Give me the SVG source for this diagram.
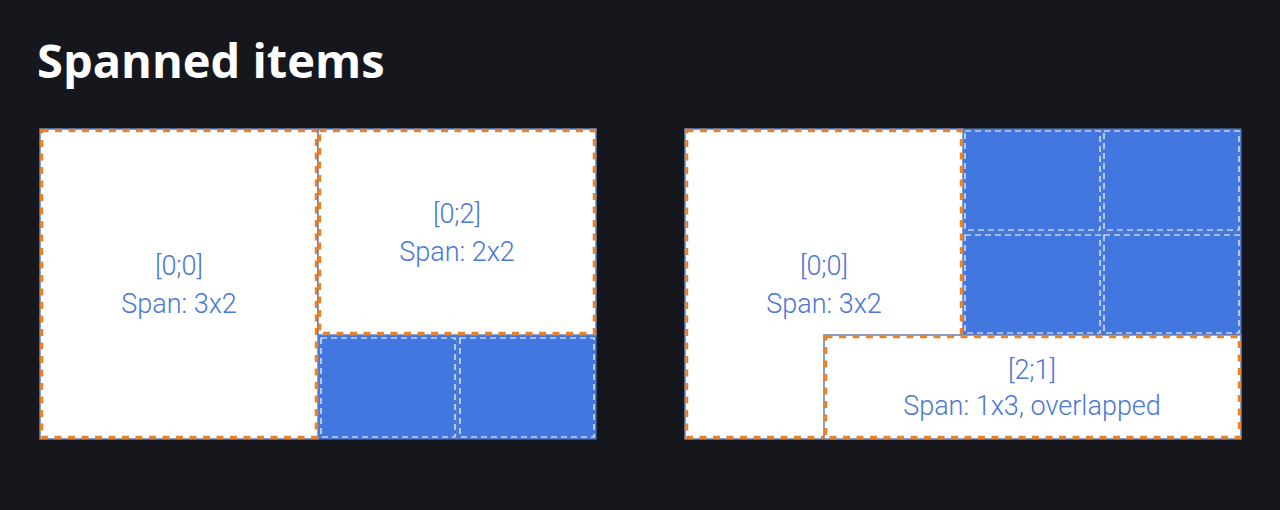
<svg xmlns="http://www.w3.org/2000/svg" width="1280" height="510" viewBox="0 0 1280 510">
<style>
.bg{fill:#16171c}
.title{font-family:"Open Sans","Noto Sans",sans-serif;font-weight:700;font-size:47px;fill:#ffffff}
.item{fill:#ffffff;stroke:#5b7fc8;stroke-width:1.5}
.frame{fill:none;stroke:#e5842f;stroke-width:3.5;stroke-dasharray:7 6.5}
.cell{fill:#4277e0;stroke:#5b7fc8;stroke-width:1}
.cellb{fill:none;stroke:#ffffff;stroke-width:1.2;stroke-dasharray:6 4}
.lbl{font-family:Roboto,"Liberation Sans",sans-serif;font-weight:300;font-size:27px;fill:#4a77d6;text-anchor:middle}
</style>
<rect class="bg" x="0" y="0" width="1280" height="510"/>
<text class="title" x="37" y="78">Spanned items</text>

<g id="grid-left">
  <g id="cell-l-2-2"><rect class="cell" x="318" y="335" width="139" height="104"/><rect class="cellb" x="321" y="338" width="134" height="99"/></g>
  <g id="cell-l-2-3"><rect class="cell" x="457" y="335" width="139" height="104"/><rect class="cellb" x="460" y="338" width="134" height="99"/></g>
  <g id="item-l-00">
    <rect class="item" x="40" y="129" width="278" height="310"/>
    <rect class="frame" x="41.5" y="130.5" width="275" height="307"/>
    <text class="lbl" x="179" y="275">[0;0]</text>
    <text class="lbl" x="179" y="313">Span: 3x2</text>
  </g>
  <g id="item-l-02">
    <rect class="item" x="318" y="129" width="278" height="206"/>
    <rect class="frame" x="319.5" y="130.5" width="275" height="203"/>
    <text class="lbl" x="457" y="223">[0;2]</text>
    <text class="lbl" x="457" y="261">Span: 2x2</text>
  </g>
</g>

<g id="grid-right">
  <g id="cell-r-0-2"><rect class="cell" x="963" y="129" width="139" height="103"/><rect class="cellb" x="965" y="131" width="135" height="99"/></g>
  <g id="cell-r-0-3"><rect class="cell" x="1102" y="129" width="139" height="103"/><rect class="cellb" x="1104" y="131" width="135" height="99"/></g>
  <g id="cell-r-1-2"><rect class="cell" x="963" y="232" width="139" height="103"/><rect class="cellb" x="965" y="235" width="135" height="98"/></g>
  <g id="cell-r-1-3"><rect class="cell" x="1102" y="232" width="139" height="103"/><rect class="cellb" x="1104" y="235" width="135" height="98"/></g>
  <g id="item-r-00">
    <rect class="item" x="685" y="129" width="278" height="310"/>
    <rect class="frame" x="686.5" y="130.5" width="275" height="307"/>
    <text class="lbl" x="824" y="275">[0;0]</text>
    <text class="lbl" x="824" y="313">Span: 3x2</text>
  </g>
  <g id="item-r-21">
    <rect class="item" x="824" y="335" width="417" height="104"/>
    <rect class="frame" x="825.5" y="336.5" width="414" height="101"/>
    <text class="lbl" x="1032" y="379">[2;1]</text>
    <text class="lbl" x="1032" y="415">Span: 1x3, overlapped</text>
  </g>
</g>
<g id="connectors"/>
</svg>
